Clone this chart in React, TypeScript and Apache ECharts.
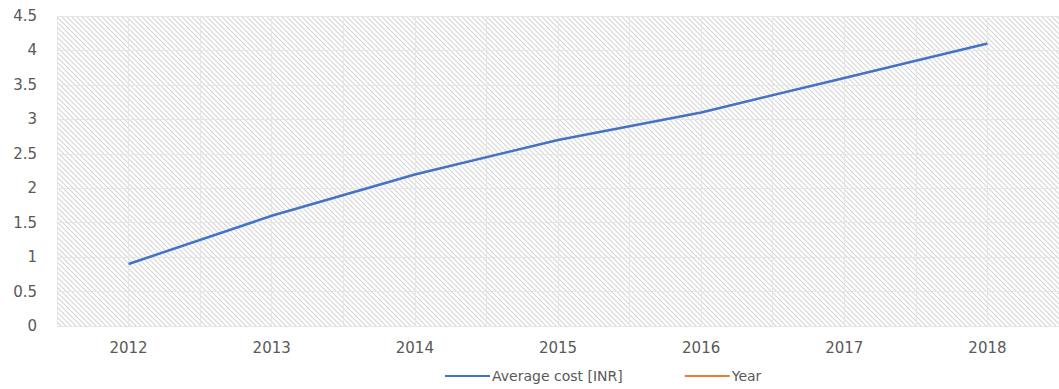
import React, { useEffect, useRef } from "react";
import * as echarts from "echarts";

const years = ["2012", "2013", "2014", "2015", "2016", "2017", "2018"];
const averageCost = [0.9, 1.6, 2.2, 2.7, 3.1, 3.6, 4.1];
const yearSeries: (number | null)[] = [];
const halfSlots = Array.from({ length: years.length * 2 }, () => "");

const tileSvg =
  "<svg xmlns='http://www.w3.org/2000/svg' width='5' height='5'>" +
  "<rect width='5' height='5' fill='#ffffff'/>" +
  "<path d='M-1,-1 L6,6 M-1,4 L1,6 M4,-1 L6,1' stroke='#d6d6d6' stroke-width='1.1'/>" +
  "</svg>";
const tileUrl = "data:image/svg+xml;charset=utf-8," + encodeURIComponent(tileSvg);

export default function App() {
  const ref = useRef<HTMLDivElement>(null);
  useEffect(() => {
    document.body.style.margin = "0";
    const chart = echarts.init(ref.current!, null, { renderer: "svg" });
    const font = "'DejaVu Sans', 'Open Sans', sans-serif";
    chart.setOption({
      animation: false,
      textStyle: { fontFamily: font },
      grid: {
        left: 57,
        right: 0,
        top: 16,
        bottom: 63,
        show: true,
        borderWidth: 0,
        backgroundColor: { image: tileUrl, repeat: "repeat" },
      },
      legend: {
        bottom: 1,
        left: 440,
        itemWidth: 45,
        itemHeight: 2,
        itemGap: 62,
        itemStyle: { borderWidth: 0 },
        icon: "rect",
        textStyle: { color: "#595959", fontSize: 14, fontFamily: font, padding: [0, 0, 0, -3] },
        data: ["Average cost [INR]", "Year"],
      },
      xAxis: [
        {
          type: "category",
          data: years,
          boundaryGap: true,
          axisLine: { lineStyle: { color: "#e6e6e6" } },
          axisTick: { show: false },
          axisLabel: { color: "#595959", fontSize: 15, margin: 14 },
          splitLine: { show: false },
        },
        {
          type: "category",
          data: halfSlots,
          boundaryGap: true,
          position: "bottom",
          axisLine: { show: false },
          axisTick: { show: false },
          axisLabel: { show: false },
          splitLine: { show: true, lineStyle: { color: "#e6e6e6", width: 1 } },
        },
      ],
      yAxis: {
        type: "value",
        min: 0,
        max: 4.5,
        interval: 0.5,
        axisLine: { show: false },
        axisTick: { show: false },
        axisLabel: { color: "#595959", fontSize: 15, margin: 20 },
        splitLine: { lineStyle: { color: "#e6e6e6", width: 1 } },
      },
      series: [
        {
          name: "Average cost [INR]",
          type: "line",
          xAxisIndex: 0,
          data: averageCost,
          showSymbol: false,
          symbol: "none",
          lineStyle: { color: "#4472C4", width: 2.5 },
          itemStyle: { color: "#4472C4" },
        },
        {
          name: "Year",
          type: "line",
          xAxisIndex: 0,
          data: yearSeries,
          symbol: "none",
          lineStyle: { color: "#ED7D31", width: 2.5 },
          itemStyle: { color: "#ED7D31" },
        },
      ],
    });
    return () => chart.dispose();
  }, []);
  return <div ref={ref} style={{ width: 1059, height: 389 }} />;
}
